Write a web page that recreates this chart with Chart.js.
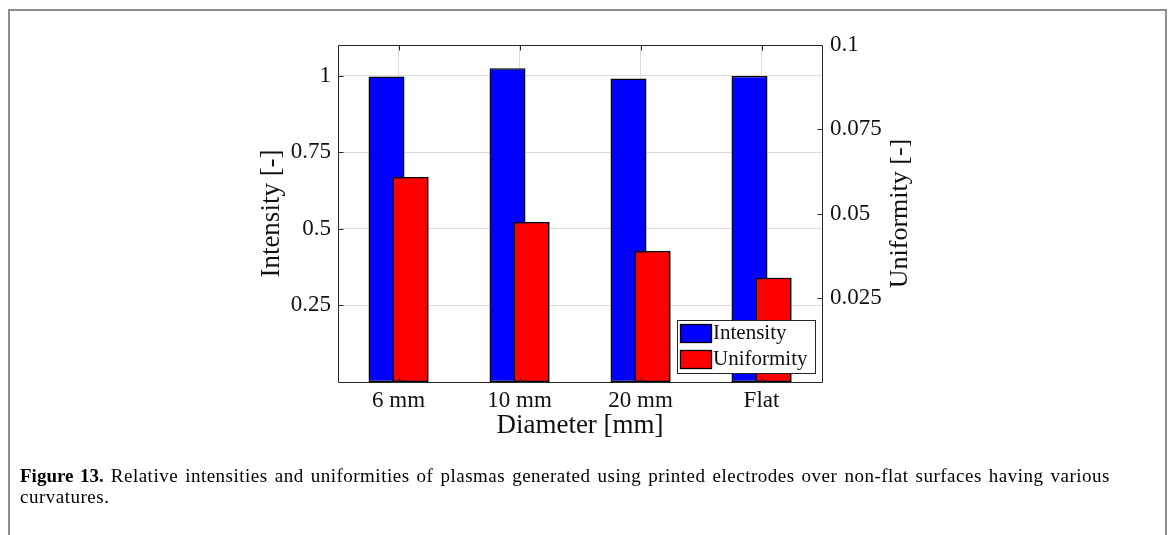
<!DOCTYPE html>
<html>
<head>
<meta charset="utf-8">
<script src="https://cdn.jsdelivr.net/npm/chart.js@4/dist/chart.umd.min.js"></script>
<style>
  html, body { margin: 0; padding: 0; background: #fff; }
  body { width: 1171px; height: 535px; position: relative; overflow: hidden; }
  #frame { position: absolute; left: 8px; top: 9px; width: 1155px; height: 540px;
           border-top: 2px solid #8c8c8c; border-left: 2px solid #8c8c8c; border-right: 2px solid #8c8c8c; }
  #chart { position: absolute; left: 0; top: 0; }
  #caption { position: absolute; left: 20px; top: 465px; width: 1090px;
             font-family: "Liberation Serif", serif; font-size: 19px; line-height: 21px;
             letter-spacing: 0.5px; color: #000; text-align: justify; }
  #caption b { font-weight: bold; letter-spacing: 0; }
</style>
</head>
<body>
<div id="frame"></div>
<canvas id="chart" width="1171" height="535"></canvas>
<div id="caption"><b>Figure 13.</b> Relative intensities and uniformities of plasmas generated using printed electrodes over non-flat surfaces having various curvatures.</div>
<script>
const categories = ['6 mm', '10 mm', '20 mm', 'Flat'];
const intensity = [0.997, 1.024, 0.991, 0.999];
const uniformity = [0.0608, 0.0475, 0.0389, 0.0309];
const intensityTicks = [0.25, 0.5, 0.75, 1];
const uniformityTicks = [0.025, 0.05, 0.075, 0.1];
const seriesNames = ['Intensity', 'Uniformity'];
const xTitle = 'Diameter [mm]';
const leftTitle = 'Intensity [-]';
const rightTitle = 'Uniformity [-]';

const SERIF = '"Liberation Serif", "Times New Roman", serif';
const AX = '#262626';

const overlayPlugin = {
  id: 'overlay',
  afterDatasetsDraw(chart) {
    // draw the second series on top (as in the original)
    const meta = chart.getDatasetMeta(1);
    if (meta && !meta.hidden) meta.controller.draw();
  },
  afterDraw(chart) {
    const ctx = chart.ctx;
    const a = chart.chartArea;
    const xs = chart.scales.x, yl = chart.scales.y, yr = chart.scales.y2;
    ctx.save();
    ctx.strokeStyle = AX;
    ctx.lineWidth = 1;
    const L = Math.round(a.left) + 0.5, R = Math.round(a.right) + 0.5;
    const T = Math.round(a.top) + 0.5, B = Math.round(a.bottom) + 0.5;
    ctx.beginPath();
    ctx.rect(L, T, R - L, B - T);
    ctx.stroke();
    ctx.beginPath();
    const tl = 5;
    intensityTicks.forEach(v => {
      const y = Math.round(yl.getPixelForValue(v)) + 0.5;
      ctx.moveTo(L, y); ctx.lineTo(L + tl, y);
    });
    uniformityTicks.forEach(v => {
      const y = Math.round(yr.getPixelForValue(v)) + 0.5;
      ctx.moveTo(R, y); ctx.lineTo(R - tl, y);
    });
    categories.forEach((c, i) => {
      const x = Math.round(xs.getPixelForValue(i)) + 0.5;
      ctx.moveTo(x, T); ctx.lineTo(x, T + tl);
      ctx.moveTo(x, B); ctx.lineTo(x, B - tl);
    });
    ctx.stroke();

    // right axis title, reading bottom-to-top
    ctx.fillStyle = '#111';
    ctx.font = '26px ' + SERIF;
    ctx.textAlign = 'center';
    ctx.textBaseline = 'middle';
    ctx.save();
    ctx.translate(900, (a.top + a.bottom) / 2);
    ctx.rotate(-Math.PI / 2);
    ctx.fillText(rightTitle, 0, 0);
    ctx.restore();

    // legend (inside, lower right)
    const bx = 677.5, by = 320.5, bw = 138, bh = 53;
    ctx.fillStyle = '#fff';
    ctx.fillRect(bx, by, bw, bh);
    ctx.strokeStyle = AX;
    ctx.strokeRect(bx, by, bw, bh);
    ctx.font = '21px ' + SERIF;
    ctx.textAlign = 'left';
    ctx.textBaseline = 'middle';
    chart.data.datasets.forEach((ds, i) => {
      const sy = 324 + i * 26;
      ctx.fillStyle = ds.backgroundColor;
      ctx.fillRect(680.5, sy + 0.5, 31, 18);
      ctx.strokeStyle = '#000';
      ctx.lineWidth = 1.3;
      ctx.strokeRect(680.5, sy + 0.5, 31, 18);
      ctx.fillStyle = '#111';
      ctx.fillText(ds.label, 713, sy + 9.5);
    });
    ctx.restore();
  }
};

new Chart(document.getElementById('chart'), {
  type: 'bar',
  data: {
    labels: categories,
    datasets: [
      { label: seriesNames[0], data: intensity, yAxisID: 'y',
        backgroundColor: '#0000ff', borderColor: '#000', borderWidth: 1.5, borderSkipped: false,
        categoryPercentage: 48 / 121, barPercentage: 1.5 },
      { label: seriesNames[1], data: uniformity, yAxisID: 'y2',
        backgroundColor: '#ff0000', borderColor: '#000', borderWidth: 1.5, borderSkipped: false,
        categoryPercentage: 48 / 121, barPercentage: 1.5 }
    ]
  },
  options: {
    responsive: false,
    animation: false,
    devicePixelRatio: 1,
    layout: { padding: { left: 256, top: 45, right: 0, bottom: 93 } },
    plugins: { legend: { display: false }, tooltip: { enabled: false } },
    scales: {
      x: {
        type: 'category',
        offset: true,
        grid: { offset: false, color: '#dcdcdc', lineWidth: 1, drawTicks: false },
        border: { display: false },
        ticks: { color: '#111', font: { family: SERIF, size: 23 }, padding: 5, maxRotation: 0 },
        title: { display: true, text: xTitle, color: '#111', font: { family: SERIF, size: 27 }, padding: 0 },
        afterFit: s => { s.height = 60; }
      },
      y: {
        type: 'linear', position: 'left', min: 0, max: 1.1,
        afterBuildTicks: s => { s.ticks = intensityTicks.map(v => ({ value: v })); },
        grid: { color: '#dcdcdc', lineWidth: 1, drawTicks: false },
        border: { display: false },
        ticks: { color: '#111', font: { family: SERIF, size: 23 }, padding: 7,
                 callback: v => String(v) },
        title: { display: true, text: leftTitle, color: '#111', font: { family: SERIF, size: 27 }, padding: 0 },
        afterFit: s => { s.width = 338 - 256; }
      },
      y2: {
        type: 'linear', position: 'right', min: 0, max: 0.1,
        afterBuildTicks: s => { s.ticks = uniformityTicks.map(v => ({ value: v })); },
        grid: { display: false, drawTicks: false },
        border: { display: false },
        ticks: { color: '#111', font: { family: SERIF, size: 23 }, padding: 8,
                 callback: v => String(v) },
        afterFit: s => { s.width = 1171 - 822; }
      }
    }
  },
  plugins: [overlayPlugin]
});
</script>
</body>
</html>
